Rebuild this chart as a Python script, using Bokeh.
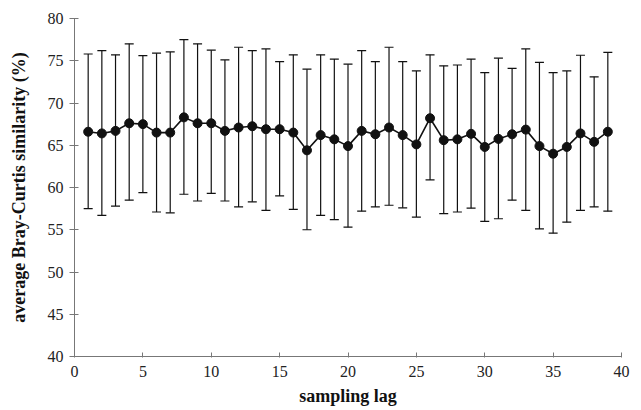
from bokeh.plotting import figure
from bokeh.models import ColumnDataSource, Whisker, TeeHead, FixedTicker, Range1d
from bokeh.embed import file_html
from bokeh.resources import INLINE

lag = list(range(1, 40))
mean = [66.6, 66.4, 66.7, 67.6, 67.5, 66.5, 66.5, 68.3, 67.6, 67.6,
        66.7, 67.1, 67.25, 66.9, 66.9, 66.5, 64.4, 66.2, 65.7, 64.9,
        66.7, 66.3, 67.1, 66.2, 65.1, 68.2, 65.6, 65.7, 66.35, 64.8,
        65.75, 66.3, 66.85, 64.9, 64.0, 64.8, 66.4, 65.4, 66.6]
upper = [75.8, 76.2, 75.7, 77.0, 75.6, 75.9, 76.05, 77.5, 77.0, 76.25,
         75.1, 76.6, 76.2, 76.4, 74.9, 75.7, 74.0, 75.7, 75.2, 74.6,
         76.2, 74.9, 76.6, 74.9, 73.8, 75.7, 74.4, 74.5, 75.2, 73.6,
         75.3, 74.1, 76.4, 74.8, 73.6, 73.8, 75.65, 73.1, 76.0]
lower = [57.5, 56.7, 57.8, 58.5, 59.4, 57.1, 57.0, 59.2, 58.4, 59.3,
         58.4, 57.7, 58.3, 57.3, 59.0, 57.4, 55.0, 56.7, 56.2, 55.3,
         57.2, 57.7, 57.9, 57.6, 56.5, 60.9, 56.9, 57.1, 57.55, 56.0,
         56.3, 58.5, 57.3, 55.1, 54.6, 55.9, 57.3, 57.7, 57.2]
x_ticks = [0, 5, 10, 15, 20, 25, 30, 35, 40]
y_ticks = [40, 45, 50, 55, 60, 65, 70, 75, 80]

src = ColumnDataSource(dict(x=lag, y=mean, upper=upper, lower=lower))

p = figure(width=641, height=410, output_backend="svg", toolbar_location=None,
           x_range=Range1d(0, 40), y_range=Range1d(40, 80),
           min_border_left=74, min_border_right=20, min_border_top=18,
           min_border_bottom=54)
p.outline_line_color = None
p.xgrid.visible = False
p.ygrid.visible = False

ink = "#111111"
w = Whisker(source=src, base="x", upper="upper", lower="lower",
            line_color=ink, line_width=1.2,
            upper_head=TeeHead(size=9, line_color=ink, line_width=1.2),
            lower_head=TeeHead(size=9, line_color=ink, line_width=1.2))
w.level = "underlay"
p.add_layout(w)

p.line("x", "y", source=src, line_color=ink, line_width=1.6)
p.scatter("x", "y", source=src, size=9, fill_color=ink, line_color=ink)

font = "Liberation Serif"
for ax in (p.xaxis[0], p.yaxis[0]):
    ax.axis_line_color = "#777777"
    ax.major_tick_line_color = "#777777"
    ax.minor_tick_line_color = None
    ax.major_label_text_font = font
    ax.major_label_text_font_size = "16px"
    ax.major_label_text_color = "#222222"
    ax.axis_label_text_font = font
    ax.axis_label_text_font_size = "18px"
    ax.axis_label_text_font_style = "bold"
    ax.axis_label_text_color = "#111111"

p.xaxis.ticker = FixedTicker(ticks=x_ticks)
p.yaxis.ticker = FixedTicker(ticks=y_ticks)
p.xaxis.axis_label = "sampling lag"
p.yaxis.axis_label = "average Bray-Curtis similarity (%)"
p.xaxis.major_tick_in = 4
p.xaxis.major_tick_out = 1
p.yaxis.major_tick_in = 4
p.yaxis.major_tick_out = 5
p.xaxis.major_label_standoff = 8
p.yaxis.major_label_standoff = 6
p.xaxis.axis_label_standoff = 6
p.yaxis.axis_label_standoff = 16

open("out.html", "w").write(file_html(p, INLINE))
